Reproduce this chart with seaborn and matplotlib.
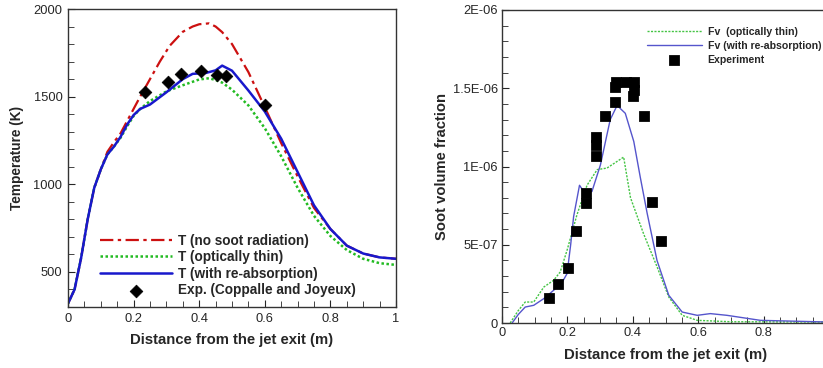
import matplotlib
matplotlib.use("Agg")
import matplotlib.pyplot as plt
from matplotlib.ticker import MultipleLocator, FixedLocator, FixedFormatter
import seaborn as sns

# ---- Temperature profiles along the centreline ----
t_x = [0, 0.02, 0.04, 0.06, 0.08, 0.1, 0.12, 0.14, 0.16, 0.18, 0.2, 0.22, 0.25,
       0.3, 0.35, 0.38, 0.42, 0.45, 0.47, 0.5, 0.55, 0.6, 0.65, 0.7, 0.75, 0.8,
       0.85, 0.9, 0.95, 1.0]
t_reabs = [320, 400, 580, 800, 980, 1085, 1170, 1215, 1270, 1340, 1395, 1430, 1455,
           1525, 1600, 1630, 1635, 1650, 1677, 1648, 1535, 1415, 1260, 1070, 880, 745,
           650, 605, 583, 575]

t_norad_x = [0, 0.02, 0.04, 0.06, 0.08, 0.1, 0.12, 0.14, 0.16, 0.18, 0.2, 0.22, 0.25,
             0.28, 0.31, 0.35, 0.38, 0.4, 0.43, 0.45, 0.47, 0.5, 0.55, 0.6, 0.65, 0.7,
             0.75, 0.8, 0.85, 0.9, 0.95, 1.0]
t_norad = [320, 400, 580, 800, 980, 1085, 1185, 1240, 1290, 1360, 1430, 1500, 1600,
           1700, 1790, 1870, 1900, 1913, 1918, 1900, 1868, 1800, 1640, 1440, 1235, 1045,
           865, 745, 650, 605, 583, 575]

t_thin_x = [0, 0.02, 0.04, 0.06, 0.08, 0.1, 0.12, 0.14, 0.16, 0.18, 0.2, 0.22, 0.25,
            0.3, 0.35, 0.4, 0.43, 0.45, 0.47, 0.5, 0.55, 0.6, 0.65, 0.7, 0.75, 0.8,
            0.85, 0.9, 0.95, 1.0]
t_thin = [320, 400, 580, 800, 980, 1085, 1170, 1215, 1265, 1330, 1390, 1430, 1475,
          1530, 1565, 1598, 1605, 1595, 1580, 1540, 1450, 1320, 1160, 980, 820, 705,
          625, 575, 550, 540]

t_exp_x = [0.234, 0.305, 0.346, 0.405, 0.455, 0.481, 0.602]
t_exp = [1527, 1584, 1631, 1644, 1625, 1616, 1450]

# ---- Soot volume fraction profiles ----
fv_reabs_x = [0.031, 0.05, 0.071, 0.097, 0.128, 0.158, 0.184, 0.199, 0.21, 0.219, 0.237,
              0.25, 0.275, 0.301, 0.331, 0.352, 0.377, 0.403, 0.423, 0.444, 0.474, 0.51,
              0.551, 0.597, 0.637, 0.688, 0.79, 1.0]
fv_reabs = [0, 5.5e-8, 1.02e-7, 1.13e-7, 1.56e-7, 2.09e-7, 2.6e-7, 3.16e-7, 5.0e-7, 6.8e-7,
            8.8e-7, 8.4e-7, 8.4e-7, 1.01e-6, 1.3e-6, 1.39e-6, 1.34e-6, 1.16e-6, 9.3e-7,
            7.0e-7, 4.0e-7, 1.77e-7, 7.0e-8, 4.9e-8, 6.0e-8, 4.9e-8, 1.7e-8, 6e-9]

fv_thin_x = [0.025, 0.05, 0.071, 0.097, 0.128, 0.158, 0.178, 0.199, 0.229, 0.26, 0.291,
             0.321, 0.372, 0.393, 0.433, 0.474, 0.51, 0.551, 0.597, 0.7, 1.0]
fv_thin = [0, 8.0e-8, 1.34e-7, 1.34e-7, 2.3e-7, 2.73e-7, 3.26e-7, 4.65e-7, 6.9e-7, 8.8e-7,
           9.8e-7, 9.9e-7, 1.06e-6, 8.0e-7, 5.7e-7, 3.6e-7, 1.66e-7, 4.9e-8, 1.7e-8, 8e-9, 6e-9]

fv_exp_x = [0.143, 0.171, 0.201, 0.227, 0.257, 0.258, 0.288, 0.288, 0.288, 0.315, 0.347,
            0.347, 0.349, 0.380, 0.405, 0.403, 0.401, 0.433, 0.458, 0.487]
fv_exp = [1.6e-7, 2.47e-7, 3.54e-7, 5.86e-7, 7.68e-7, 8.3e-7, 1.07e-6, 1.14e-6, 1.19e-6,
          1.32e-6, 1.41e-6, 1.51e-6, 1.54e-6, 1.54e-6, 1.54e-6, 1.49e-6, 1.45e-6, 1.32e-6,
          7.74e-7, 5.25e-7]

t_ticks = [0, 0.2, 0.4, 0.6, 0.8, 1.0]
t_ticklabels = ["0", "0.2", "0.4", "0.6", "0.8", "1"]
fv_yticks = [0, 5e-7, 1e-6, 1.5e-6, 2e-6]
fv_yticklabels = ["0", "5E-07", "1E-06", "1.5E-06", "2E-06"]
fv_xticks = [0, 0.2, 0.4, 0.6, 0.8]
fv_xticklabels = ["0", "0.2", "0.4", "0.6", "0.8"]

sns.set_style("ticks")
plt.rcParams["font.family"] = ["Liberation Sans", "DejaVu Sans"]
plt.rcParams["axes.linewidth"] = 1.0

W, H = 823, 368
fig = plt.figure(figsize=(W / 100, H / 100), dpi=100)

def px_axes(x0, y0, x1, y1):
    return fig.add_axes([x0 / W, 1 - y1 / H, (x1 - x0) / W, (y1 - y0) / H])

ax1 = px_axes(68, 9, 396, 307)
ax2 = px_axes(502, 10, 829, 323)

RED, GREEN, BLUE = "#cc1010", "#22bb22", "#1818cc"

# Left: temperature
sns.lineplot(x=t_norad_x, y=t_norad, ax=ax1, color=RED, lw=1.6, estimator=None,
             sort=False, linestyle=(0, (6, 2, 1.5, 2)), label="T (no soot radiation)")
sns.lineplot(x=t_thin_x, y=t_thin, ax=ax1, color=GREEN, lw=1.8, estimator=None,
             sort=False, linestyle=(0, (1, 1)), label="T (optically thin)")
sns.lineplot(x=t_x, y=t_reabs, ax=ax1, color=BLUE, lw=1.8, estimator=None,
             sort=False, label="T (with re-absorption)")
sns.scatterplot(x=t_exp_x, y=t_exp, ax=ax1, color="black", marker="D", s=42,
                edgecolor="black", zorder=5, label="Exp. (Coppalle and Joyeux)")

ax1.set_xlim(0, 1)
ax1.set_ylim(300, 2000)
ax1.xaxis.set_major_locator(FixedLocator(t_ticks))
ax1.xaxis.set_major_formatter(FixedFormatter(t_ticklabels))
ax1.xaxis.set_minor_locator(MultipleLocator(0.05))
ax1.yaxis.set_major_locator(FixedLocator([500, 1000, 1500, 2000]))
ax1.yaxis.set_minor_locator(MultipleLocator(100))
ax1.tick_params(which="both", direction="in", labelsize=9.3, pad=4)
ax1.tick_params(which="major", length=5)
ax1.tick_params(which="minor", length=4)
ax1.set_xlabel("Distance from the jet exit (m)", fontsize=10.7, fontweight="bold", labelpad=6)
ax1.set_ylabel("Temperature (K)", fontsize=9.8, fontweight="bold", labelpad=7)
leg1 = ax1.legend(loc="lower left", bbox_to_anchor=(0.08, 0.015), frameon=False,
                  fontsize=9.8, handlelength=5.3, handletextpad=0.45, labelspacing=0.18,
                  borderaxespad=0)
for t in leg1.get_texts():
    t.set_fontweight("bold")
for s in ax1.spines.values():
    s.set_color("#333333")

# Right: soot volume fraction
sns.lineplot(x=fv_thin_x, y=fv_thin, ax=ax2, color="#44c444", lw=1.0, estimator=None,
             sort=False, linestyle=(0, (1.5, 1)), label="Fv  (optically thin)")
sns.lineplot(x=fv_reabs_x, y=fv_reabs, ax=ax2, color="#5555cc", lw=1.0, estimator=None,
             sort=False, label="Fv (with re-absorption)")
sns.scatterplot(x=fv_exp_x, y=fv_exp, ax=ax2, color="black", marker="s", s=50,
                edgecolor="black", zorder=5, label="Experiment")

ax2.set_xlim(0, 1)
ax2.set_ylim(0, 2e-6)
ax2.xaxis.set_major_locator(FixedLocator(fv_xticks))
ax2.xaxis.set_major_formatter(FixedFormatter(fv_xticklabels))
ax2.xaxis.set_minor_locator(MultipleLocator(0.05))
ax2.yaxis.set_major_locator(FixedLocator(fv_yticks))
ax2.yaxis.set_major_formatter(FixedFormatter(fv_yticklabels))
ax2.yaxis.set_minor_locator(MultipleLocator(1e-7))
ax2.tick_params(which="both", direction="in", labelsize=9.3, pad=3)
ax2.tick_params(which="major", length=5)
ax2.tick_params(which="minor", length=4)
ax2.set_xlabel("Distance from the jet exit (m)", fontsize=10.7, fontweight="bold", labelpad=6)
ax2.set_ylabel("Soot volume fraction", fontsize=10.6, fontweight="bold", labelpad=3)
leg2 = ax2.legend(loc="upper left", bbox_to_anchor=(0.43, 0.96), frameon=False,
                  fontsize=7.6, handlelength=5.2, handletextpad=0.55, labelspacing=0.4,
                  borderaxespad=0)
for t in leg2.get_texts():
    t.set_fontweight("bold")
for s in ax2.spines.values():
    s.set_color("#333333")

fig.savefig("out.png", dpi=100)
